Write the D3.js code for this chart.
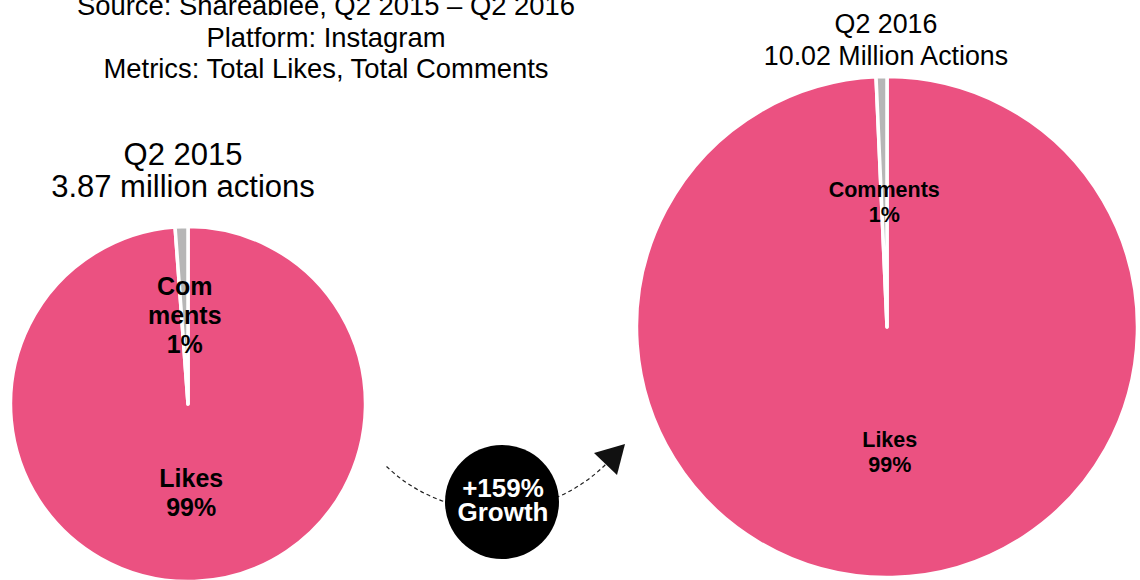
<!DOCTYPE html>
<html>
<head>
<meta charset="utf-8">
<script src="https://cdn.jsdelivr.net/npm/d3@7"></script>
<style>
  body { margin: 0; background: #fff; }
  svg { display: block; font-family: "Liberation Sans", Arial, sans-serif; }
</style>
</head>
<body>
<div id="chart"></div>
<script>
// data, in million actions
var categories = ["Likes", "Comments"];
var q2015 = [3.825, 0.045];
var q2016 = [9.95, 0.07];
var headerLines = ["Source: Shareablee, Q2 2015 \u2013 Q2 2016", "Platform: Instagram", "Metrics: Total Likes, Total Comments"];
var title2015 = ["Q2 2015", "3.87 million actions"];
var title2016 = ["Q2 2016", "10.02 Million Actions"];
var growthLines = ["+159%", "Growth"];

function init() {
    var w = 1140;
    var h = 580;
    var svg = d3.select("#chart").append("svg")
        .attr("width", w)
        .attr("height", h);

    var colors = d3.scaleOrdinal().domain(categories).range(["#EB5181", "#B6B6B6"]);

    // header text
    svg.append("g").selectAll("text")
        .data(headerLines)
        .enter()
        .append("text")
        .attr("x", 326)
        .attr("y", (d, i) => 15 + i * 31.5)
        .attr("text-anchor", "middle")
        .style("font-size", "27.4px")
        .text(d => d);

    function drawPie(values, cx, cy, r, labelSize, labelGap, splitComments) {
        var total = d3.sum(values);
        var rows = categories.map((c, i) => ({ name: c, value: values[i] }));
        var pie = d3.pie().sort(null).value(d => d.value);
        var arc = d3.arc().innerRadius(0).outerRadius(r);
        var labelArc = d3.arc().innerRadius(r * 0.5).outerRadius(r * 0.5);

        var g = svg.append("g").attr("transform", `translate(${cx},${cy})`);
        var arcs = pie(rows);

        g.selectAll("path")
            .data(arcs)
            .enter()
            .append("path")
            .attr("d", arc)
            .attr("fill", d => colors(d.data.name))
            .attr("stroke", "#fff")
            .attr("stroke-width", 3.5)
            .attr("stroke-linejoin", "round");

        arcs.forEach(function(d) {
            var c = labelArc.centroid(d);
            var pct = Math.round(d.data.value / total * 100) + "%";
            var lines = (d.data.name === "Comments" && splitComments) ? ["Com", "ments", pct] : [d.data.name, pct];
            var t = g.append("text")
                .attr("text-anchor", "middle")
                .style("font-size", labelSize + "px")
                .style("font-weight", "bold");
            var y0 = c[1] - (lines.length - 1) * labelGap / 2 + labelSize * 0.35;
            lines.forEach(function(l, i) {
                t.append("tspan")
                    .attr("x", c[0])
                    .attr("y", y0 + i * labelGap)
                    .text(l);
            });
        });
    }

    drawPie(q2015, 188, 404, 177.5, 25, 29, true);
    drawPie(q2016, 887, 327, 250.5, 21.5, 25, false);

    // pie titles
    svg.append("g").selectAll("text")
        .data(title2015)
        .enter()
        .append("text")
        .attr("x", 183)
        .attr("y", (d, i) => 165 + i * 32)
        .attr("text-anchor", "middle")
        .style("font-size", "31px")
        .text(d => d);

    svg.append("g").selectAll("text")
        .data(title2016)
        .enter()
        .append("text")
        .attr("x", 886)
        .attr("y", (d, i) => 33 + i * 32)
        .attr("text-anchor", "middle")
        .style("font-size", "26.8px")
        .text(d => d);

    // growth arrow: dashed arc behind the circle
    var ac = [495, 353], ar = 157;
    var a0 = Math.atan2(467 - ac[1], 386 - ac[0]);
    var a1 = Math.atan2(464 - ac[1], 605 - ac[0]);
    var p = d3.path();
    p.arc(ac[0], ac[1], ar, a0, a1, true);
    svg.append("path")
        .attr("d", p.toString())
        .attr("fill", "none")
        .attr("stroke", "#222")
        .attr("stroke-width", 1.2)
        .attr("stroke-dasharray", "4,3");

    svg.append("path")
        .attr("d", "M594,453 L625,444 L617,475 Z")
        .attr("fill", "#111");

    svg.append("circle")
        .attr("cx", 502)
        .attr("cy", 502)
        .attr("r", 57)
        .attr("fill", "#000");

    svg.append("g").selectAll("text")
        .data(growthLines)
        .enter()
        .append("text")
        .attr("x", 503)
        .attr("y", (d, i) => 497 + i * 24)
        .attr("text-anchor", "middle")
        .style("font-size", "26px")
        .style("font-weight", "bold")
        .attr("fill", "#fff")
        .text(d => d);
}

window.onload = init;
</script>
</body>
</html>
